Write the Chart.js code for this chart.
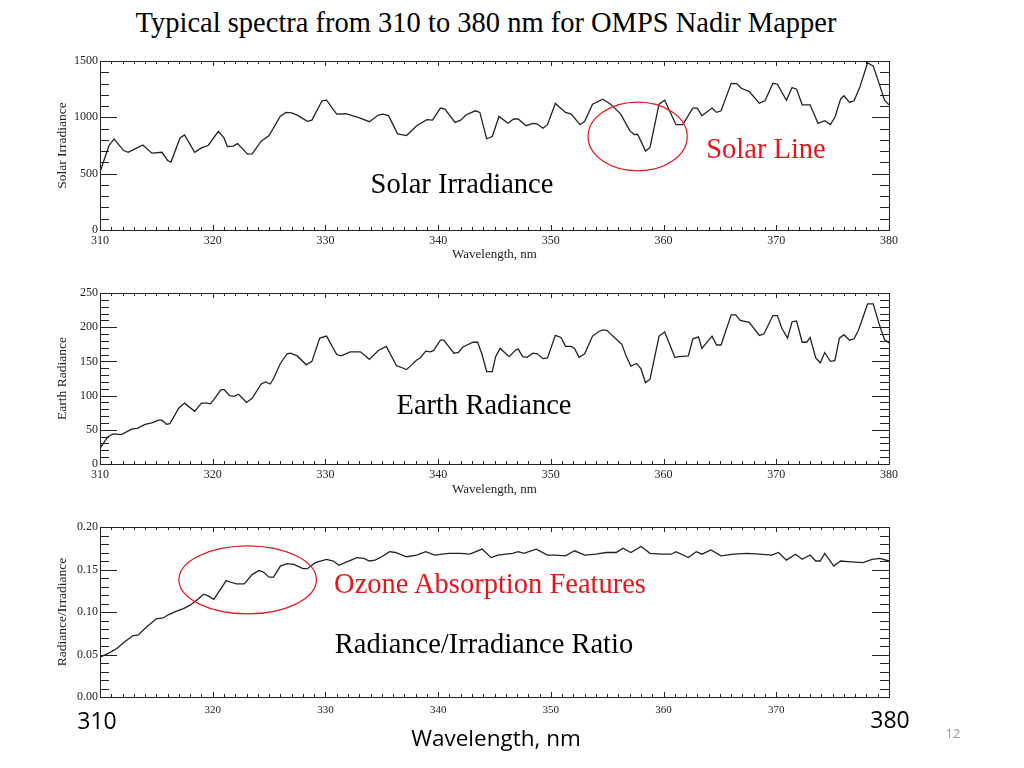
<!DOCTYPE html>
<html>
<head>
<meta charset="utf-8">
<script src="https://cdn.jsdelivr.net/npm/chart.js@4.4.1/dist/chart.umd.min.js"></script>
<style>
    body { margin: 0; background: #fff; width: 1024px; height: 768px; overflow: hidden; position: relative; }
    canvas { position: absolute; left: 0; }
    .lbl { position: absolute; transform: translate(-50%, -50%); white-space: nowrap; font-family: "Liberation Serif", serif; color: #000; }
    .red { color: #e8141c; }
    .sans { font-family: "Open Sans", sans-serif; }
</style>
</head>
<body>
<canvas id="solarChart" width="1024" height="230" style="top:40px"></canvas>
<canvas id="earthChart" width="1024" height="230" style="top:275px"></canvas>
<canvas id="ratioChart" width="1024" height="230" style="top:505px"></canvas>

<div class="lbl" style="left:486px; top:23px; font-size:28.5px;">Typical spectra from 310 to 380 nm for OMPS Nadir Mapper</div>

<div class="lbl" style="left:462px; top:184px; font-size:28.5px;">Solar Irradiance</div>
<div class="lbl red" style="left:766px; top:149px; font-size:28.5px;">Solar Line</div>
<div class="lbl" style="left:484px; top:405px; font-size:28.5px;">Earth Radiance</div>
<div class="lbl red" style="left:490px; top:584px; font-size:28.5px;">Ozone Absorption Features</div>
<div class="lbl" style="left:484px; top:644px; font-size:28.5px;">Radiance/Irradiance Ratio</div>

<div class="lbl sans" style="left:97px; top:720px; font-size:23px;">310</div>
<div class="lbl sans" style="left:890px; top:719px; font-size:23px;">380</div>
<div class="lbl sans" style="left:496px; top:737px; font-size:22.5px;">Wavelength, nm</div>
<div class="lbl sans" style="left:953px; top:733px; font-size:13px; color:#999;">12</div>

<script>
// wavelength (nm) + values
const wlSolar = [310.0, 310.8, 311.25, 312.1, 312.5, 313.1, 313.8, 314.6, 315.5, 316.0, 316.3, 317.1, 317.5, 318.4, 319.0, 319.6,
    320.5, 321.0, 321.3, 321.8, 322.2, 323.1, 323.5, 324.3, 325.0, 326.0, 326.5, 327.0, 327.5, 328.4, 328.8, 329.7,
    330.1, 331.0, 331.8, 332.9, 333.9, 334.7, 335.1, 335.6, 336.4, 337.2, 338.1, 339.0, 339.5, 340.2, 340.6, 341.5,
    342.0, 342.5, 343.3, 343.7, 344.3, 344.8, 345.4, 346.2, 346.7, 347.1, 347.8, 348.4, 348.8, 349.3, 349.7, 350.4,
    351.3, 351.8, 352.6, 353.0, 353.7, 354.6, 355.3, 356.2, 357.0, 357.4, 357.7, 358.4, 358.8, 359.6, 360.1, 361.1,
    361.7, 362.6, 363.0, 363.4, 364.3, 364.7, 365.1, 366.0, 366.5, 366.9, 367.6, 368.5, 369.0, 369.7, 370.1, 370.9,
    371.4, 371.8, 372.3, 373.0, 373.7, 374.3, 374.8, 375.2, 375.7, 376.0, 376.5, 376.9, 377.4, 378.1, 378.6, 379.1,
    379.6, 380.0];
const solarIrradiance = [515, 750, 808, 705, 690, 720, 755, 682, 690, 617, 603, 817, 844, 690, 729, 750,
    876, 817, 741, 745, 767, 673, 675, 788, 838, 1011, 1044, 1040, 1020, 964, 975, 1147,
    1152, 1029, 1032, 1000, 961, 1020, 1029, 1015, 853, 838, 926, 979, 975, 1082, 1073, 955,
    975, 1023, 1058, 1044, 810, 830, 1008, 947, 985, 985, 926, 947, 940, 903, 935, 1123,
    1044, 1029, 935, 964, 1117, 1161, 1117, 1029, 882, 847, 850, 700, 735, 1117, 1152, 935,
    935, 1082, 1082, 1014, 1082, 1044, 1058, 1302, 1300, 1258, 1229, 1126, 1147, 1302, 1294, 1152,
    1264, 1250, 1111, 1111, 947, 970, 935, 1000, 1161, 1191, 1132, 1147, 1264, 1485, 1455, 1308,
    1152, 1111];

const wlEarth = [310.0, 310.7, 311.2, 311.9, 312.8, 313.3, 314.0, 314.6, 315.2, 315.5, 315.9, 316.2, 317.0, 317.5, 318.4, 319.0,
    319.5, 319.8, 320.1, 320.7, 321.0, 321.5, 321.9, 322.3, 323.0, 323.5, 324.3, 324.7, 325.1, 325.4, 326.0, 326.6,
    326.9, 327.5, 328.3, 328.8, 329.5, 330.1, 331.0, 331.4, 332.2, 333.1, 333.9, 334.7, 335.4, 336.3, 337.2, 338.1,
    338.4, 338.9, 339.3, 339.6, 340.2, 340.5, 341.4, 341.8, 342.2, 343.1, 343.5, 343.9, 344.3, 344.8, 345.1, 345.5,
    346.3, 346.9, 347.1, 347.5, 347.9, 348.4, 348.8, 349.3, 349.7, 350.4, 350.9, 351.3, 351.8, 352.1, 352.5, 353.0,
    353.7, 354.2, 354.6, 355.0, 355.5, 356.3, 356.7, 357.1, 357.6, 358.0, 358.4, 358.8, 359.6, 360.1, 361.0, 361.4,
    362.2, 362.6, 363.1, 363.4, 364.3, 364.7, 365.1, 366.0, 366.4, 366.8, 367.6, 368.5, 368.9, 369.7, 370.1, 370.5,
    371.0, 371.4, 371.8, 372.3, 372.7, 373.0, 373.5, 373.9, 374.3, 374.8, 375.2, 375.6, 376.0, 376.5, 376.9, 377.3,
    378.1, 378.6, 379.1, 379.6, 380.0];
const earthRadiance = [23, 40, 44, 43, 51, 52, 58, 60, 64, 64, 58, 59, 82, 89, 77, 89,
    89, 88, 94, 108, 109, 100, 99, 102, 90, 96, 117, 120, 117, 125, 147, 161,
    162, 158, 145, 150, 184, 187, 160, 158, 164, 164, 153, 166, 172, 144, 138, 152,
    155, 165, 164, 166, 181, 181, 162, 163, 171, 178, 178, 160, 135, 135, 157, 169,
    157, 167, 168, 157, 156, 162, 161, 154, 155, 188, 185, 172, 172, 169, 156, 161,
    187, 193, 196, 195, 187, 175, 157, 143, 147, 139, 119, 124, 187, 193, 156, 157,
    158, 183, 186, 169, 187, 174, 174, 218, 218, 210, 207, 188, 190, 217, 217, 198,
    184, 208, 209, 178, 178, 185, 155, 148, 163, 150, 151, 184, 189, 181, 183, 196,
    234, 234, 206, 182, 177];

const wlRatio = [310.0, 310.7, 311.5, 312.2, 312.9, 313.4, 314.1, 315.0, 315.6, 316.1, 316.8, 317.4, 318.0, 318.6, 319.2, 319.6,
    320.1, 320.7, 321.2, 321.6, 322.1, 322.8, 323.5, 324.1, 324.5, 325.0, 325.4, 326.0, 326.6, 327.2, 328.0, 328.4,
    329.1, 330.1, 330.7, 331.2, 331.9, 332.8, 333.4, 333.9, 334.4, 335.0, 335.7, 336.2, 337.2, 338.1, 338.9, 339.7,
    340.9, 342.0, 342.8, 343.9, 344.7, 345.3, 346.0, 346.6, 347.1, 347.6, 348.7, 349.7, 350.4, 351.3, 352.1, 353.0,
    354.0, 354.9, 355.8, 356.4, 357.1, 358.0, 358.8, 359.8, 360.7, 361.1, 362.2, 362.9, 363.4, 364.2, 365.1, 366.2,
    367.4, 368.5, 369.6, 370.2, 370.9, 371.7, 372.3, 373.0, 373.5, 373.9, 374.3, 375.1, 375.7, 376.6, 377.7, 378.5,
    379.2, 380.0];
const ratio = [0.047, 0.051, 0.057, 0.065, 0.072, 0.073, 0.082, 0.092, 0.093, 0.097, 0.101, 0.104, 0.108, 0.114, 0.121, 0.119,
    0.115, 0.127, 0.137, 0.135, 0.133, 0.133, 0.144, 0.149, 0.147, 0.141, 0.141, 0.154, 0.157, 0.156, 0.151, 0.151,
    0.158, 0.162, 0.160, 0.155, 0.159, 0.164, 0.163, 0.160, 0.161, 0.165, 0.171, 0.170, 0.165, 0.167, 0.171, 0.167,
    0.169, 0.169, 0.168, 0.174, 0.164, 0.167, 0.168, 0.169, 0.171, 0.169, 0.174, 0.167, 0.167, 0.166, 0.172, 0.167,
    0.168, 0.170, 0.170, 0.175, 0.170, 0.177, 0.169, 0.168, 0.168, 0.171, 0.164, 0.171, 0.168, 0.173, 0.166, 0.168,
    0.169, 0.168, 0.167, 0.170, 0.161, 0.168, 0.162, 0.167, 0.160, 0.160, 0.169, 0.154, 0.160, 0.159, 0.158, 0.162,
    0.163, 0.160];

const serif = 'Liberation Serif';

// IDL style frame: box + inward ticks on all four sides, optional red ellipse
const idlFrame = {
    id: 'idlFrame',
    afterDatasetsDraw(chart, args, opts) {
        const { ctx, chartArea: a, scales: { x, y } } = chart;
        ctx.save();
        ctx.strokeStyle = '#222';
        ctx.lineWidth = 1;
        ctx.strokeRect(a.left + 0.5, a.top + 0.5, a.width, a.height);
        ctx.beginPath();
        let n = Math.round((x.max - x.min) / opts.xMinor);
        for (let i = 0; i <= n; i++) {
            const v = x.min + i * opts.xMinor;
            const px = Math.round(x.getPixelForValue(v)) + 0.5;
            const major = Math.abs(v / opts.xMajor - Math.round(v / opts.xMajor)) < 1e-6;
            const len = major ? 5 : 3;
            ctx.moveTo(px, a.bottom); ctx.lineTo(px, a.bottom - len);
            ctx.moveTo(px, a.top); ctx.lineTo(px, a.top + len);
        }
        n = Math.round((y.max - y.min) / opts.yMinor);
        for (let i = 0; i <= n; i++) {
            const v = y.min + i * opts.yMinor;
            const py = Math.round(y.getPixelForValue(v)) + 0.5;
            const major = Math.abs(v / opts.yMajor - Math.round(v / opts.yMajor)) < 1e-6;
            const len = major ? 17 : 9;
            ctx.moveTo(a.left, py); ctx.lineTo(a.left + len, py);
            ctx.moveTo(a.right, py); ctx.lineTo(a.right - len, py);
        }
        ctx.stroke();
        if (opts.ellipse) {
            const e = opts.ellipse;
            const cx = x.getPixelForValue(e.x), cy = y.getPixelForValue(e.y);
            const rx = Math.abs(x.getPixelForValue(e.x + e.rx) - cx);
            const ry = Math.abs(y.getPixelForValue(e.y + e.ry) - cy);
            ctx.beginPath();
            ctx.strokeStyle = '#e8141c';
            ctx.lineWidth = 1.2;
            ctx.ellipse(cx, cy, rx, ry, 0, 0, Math.PI * 2);
            ctx.stroke();
        }
        ctx.restore();
    },
};

function SpectrumChart(id, wl, vals, cfg) {
    new Chart(document.getElementById(id), {
        type: 'line',
        data: {
            datasets: [
                {
                    data: wl.map((w, i) => ({ x: w, y: vals[i] })),
                    borderColor: '#222',
                    borderWidth: 1.3,
                    pointRadius: 0,
                    tension: 0,
                },
            ],
        },
        options: {
            responsive: false,
            animation: false,
            devicePixelRatio: 1,
            layout: { padding: cfg.padding },
            plugins: {
                legend: { display: false },
                tooltip: { enabled: false },
                idlFrame: cfg.frame,
            },
            scales: {
                x: {
                    type: 'linear',
                    min: 310,
                    max: 380,
                    grid: { display: false, drawTicks: false },
                    border: { display: false },
                    ticks: {
                        stepSize: 10,
                        padding: cfg.xPad,
                        color: '#222',
                        font: { family: serif, size: cfg.xFont },
                        maxRotation: 0,
                        callback: (v) => (cfg.hideEnds && (v == 310 || v == 380) ? '' : String(v)),
                    },
                    title: {
                        display: cfg.xTitle,
                        text: 'Wavelength, nm',
                        color: '#222',
                        font: { family: serif, size: 13 },
                        padding: 0,
                    },
                    afterFit: (scale) => { scale.height = cfg.xHeight; },
                },
                y: {
                    min: cfg.yMin,
                    max: cfg.yMax,
                    grid: { display: false, drawTicks: false },
                    border: { display: false },
                    ticks: {
                        stepSize: cfg.yStep,
                        padding: 2,
                        color: '#222',
                        font: { family: serif, size: 12 },
                        callback: cfg.yFmt,
                    },
                    title: {
                        display: true,
                        text: cfg.yTitle,
                        color: '#222',
                        font: { family: serif, size: 13.5 },
                        padding: { top: 2, bottom: 0 },
                    },
                    afterFit: (scale) => { scale.width = 48; },
                },
            },
        },
        plugins: [idlFrame],
    });
}

SpectrumChart('solarChart', wlSolar, solarIrradiance, {
    padding: { left: 52, right: 135, top: 21, bottom: 8 },
    xHeight: 32, xTitle: true, xPad: 4, xFont: 12,
    yMin: 0, yMax: 1500, yStep: 500, yTitle: 'Solar Irradiance',
    yFmt: (v) => String(v),
    frame: { xMinor: 1, xMajor: 10, yMinor: 100, yMajor: 500, ellipse: { x: 357.7, y: 830, rx: 4.4, ry: 305 } },
});

SpectrumChart('earthChart', wlEarth, earthRadiance, {
    padding: { left: 52, right: 135, top: 18, bottom: 8 },
    xHeight: 33, xTitle: true, xPad: 4, xFont: 12,
    yMin: 0, yMax: 250, yStep: 50, yTitle: 'Earth Radiance',
    yFmt: (v) => String(v),
    frame: { xMinor: 1, xMajor: 10, yMinor: 10, yMajor: 50 },
});

SpectrumChart('ratioChart', wlRatio, ratio, {
    padding: { left: 52, right: 135, top: 22, bottom: 13 },
    xHeight: 25, xTitle: false, hideEnds: true, xPad: 7, xFont: 11,
    yMin: 0, yMax: 0.2, yStep: 0.05, yTitle: 'Radiance/Irradiance',
    yFmt: (v) => v.toFixed(2),
    frame: { xMinor: 1, xMajor: 10, yMinor: 0.01, yMajor: 0.05, ellipse: { x: 323.1, y: 0.1378, rx: 6.1, ry: 0.040 } },
});
</script>
</body>
</html>
